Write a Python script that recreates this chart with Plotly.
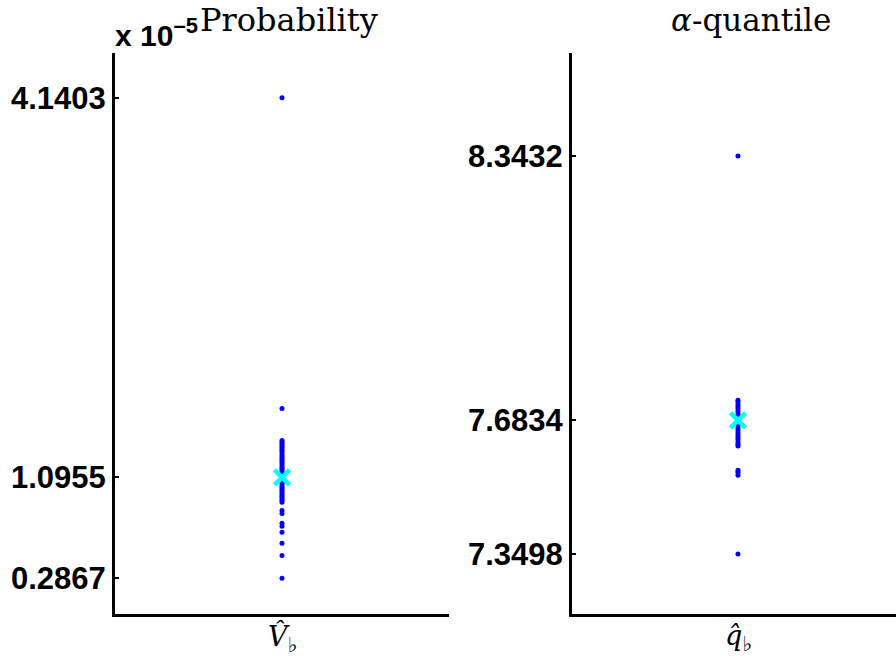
import plotly.graph_objects as go

# ---- data ----
# Probability estimates, in units of 1e-5
prob_values = [4.1403, 1.6484, 1.392, 1.377, 1.365, 1.352, 1.338, 1.321, 1.309,
               1.294, 1.276, 1.262, 1.248, 1.231, 1.219, 1.203, 1.188, 1.172,
               1.161, 1.144, 1.128, 1.113, 1.101, 1.086, 1.071, 1.058, 1.042,
               1.027, 1.013, 0.998, 0.984, 0.969, 0.953, 0.941, 0.926, 0.912,
               0.897, 0.831, 0.807, 0.727, 0.703, 0.655, 0.567, 0.470, 0.2867]
prob_mean = 1.0955
prob_ticks = [0.2867, 1.0955, 4.1403]
prob_ticklabels = ["0.2867", "1.0955", "4.1403"]
prob_range = [0, 4.5]

# alpha-quantile estimates
quant_values = [8.3432, 7.7332, 7.729, 7.723, 7.717, 7.712, 7.706, 7.699, 7.694,
                7.688, 7.682, 7.676, 7.671, 7.664, 7.658, 7.651, 7.645, 7.640,
                7.635, 7.628, 7.623, 7.619, 7.559, 7.554, 7.546, 7.3498]
quant_mean = 7.6834
quant_ticks = [7.3498, 7.6834, 8.3432]
quant_ticklabels = ["7.3498", "7.6834", "8.3432"]
quant_range = [7.2, 8.6]

W, H = 896, 664
ytop, ybot = 53, 614

fig = go.Figure()

dot = dict(color="#0000ff", size=5, line=dict(width=0))
cross = dict(symbol="x-thin", size=15, color="#00ffff",
             line=dict(color="#00ffff", width=4.5))

fig.add_trace(go.Scatter(x=[1] * len(prob_values), y=prob_values, mode="markers",
                         marker=dot, xaxis="x", yaxis="y"))
fig.add_trace(go.Scatter(x=[1], y=[prob_mean], mode="markers", marker=cross,
                         xaxis="x", yaxis="y"))
fig.add_trace(go.Scatter(x=[1] * len(quant_values), y=quant_values, mode="markers",
                         marker=dot, xaxis="x2", yaxis="y2"))
fig.add_trace(go.Scatter(x=[1], y=[quant_mean], mode="markers", marker=cross,
                         xaxis="x2", yaxis="y2"))

tickfont = dict(family="Liberation Sans, Arial, sans-serif", size=31,
                color="black", weight="bold")

def xax(domain, rng, anchor):
    return dict(domain=domain, range=rng, anchor=anchor, showline=True,
                linewidth=3, linecolor="black", showticklabels=False,
                ticks="", showgrid=False, zeroline=False, fixedrange=True,
                automargin=False)

def yax(rng, anchor, tv, tt):
    return dict(domain=[1 - ybot / H, 1 - ytop / H], range=rng, anchor=anchor,
                showline=True, linewidth=3, linecolor="black", ticks="inside",
                ticklen=4, tickwidth=2, tickcolor="black", tickvals=tv,
                ticktext=tt, tickfont=tickfont, showgrid=False, zeroline=False,
                fixedrange=True, automargin=False)

fig.update_layout(
    width=W, height=H, margin=dict(l=0, r=0, t=0, b=0, autoexpand=False),
    paper_bgcolor="white", plot_bgcolor="white", showlegend=False,
    xaxis=xax([115 / W, 449 / W], [0, 2], "y"),
    yaxis=yax(prob_range, "x", prob_ticks, prob_ticklabels),
    xaxis2=xax([572 / W, 1.0], [0, 1.952], "y2"),
    yaxis2=yax(quant_range, "x2", quant_ticks, quant_ticklabels),
)

serif = "DejaVu Serif, serif"
anns = [
    dict(x=289 / W, y=1 - 20 / H, text="Probability", font=dict(family=serif, size=32)),
    dict(x=751 / W, y=1 - 20 / H, text="<i>α</i>-quantile", font=dict(family=serif, size=31)),
    dict(x=282 / W, y=1 - 638 / H,
         text="<i>V̂</i><sub><span style='font-size:21px'>♭</span></sub>",
         font=dict(family=serif, size=27)),
    dict(x=738 / W, y=1 - 638 / H,
         text="<i>q̂</i><sub><span style='font-size:21px'>♭</span></sub>",
         font=dict(family=serif, size=27)),
]
for a in anns:
    a.update(xref="paper", yref="paper", showarrow=False, xanchor="center",
             yanchor="middle")
    a["font"]["color"] = "black"
    fig.add_annotation(**a)

fig.add_annotation(x=113 / W, y=1 - 54 / H, xref="paper", yref="paper",
                   showarrow=False, xanchor="left", yanchor="bottom",
                   text="x 10<sup><span style='font-size:22px'>–5</span></sup>",
                   font=dict(family="Liberation Sans, Arial, sans-serif", size=30,
                             color="black", weight="bold"))

fig.write_html("out.html",
               config={"displayModeBar": False},
               post_script="document.body.style.margin='0px';")
